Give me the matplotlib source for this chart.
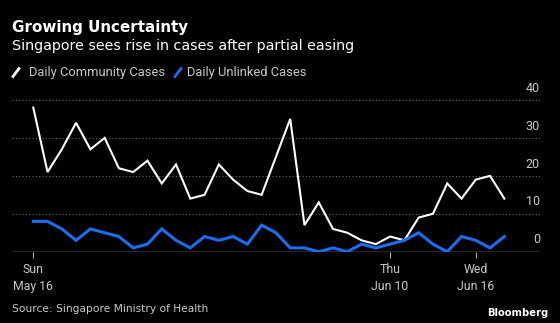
import datetime as dt
import matplotlib
matplotlib.use("Agg")
import matplotlib.pyplot as plt
import matplotlib.dates as mdates
from matplotlib.lines import Line2D

# --- data ---
start = dt.date(2021, 5, 16)
community = [38, 21, 27, 34, 27, 30, 22, 21, 24, 18, 23, 14, 15, 23, 19, 16, 15,
             25, 35, 7, 13, 6, 5, 3, 2, 4, 3, 9, 10, 18, 14, 19, 20, 14]
unlinked = [8, 8, 6, 3, 6, 5, 4, 1, 2, 6, 3, 1, 4, 3, 4, 2, 7,
            5, 1, 1, 0, 1, 0, 2, 1, 2, 3, 5, 2, 0, 4, 3, 1, 4]
dates = [start + dt.timedelta(days=i) for i in range(len(community))]
tick_dates = [dt.date(2021, 5, 16), dt.date(2021, 6, 10), dt.date(2021, 6, 16)]
tick_labels = ["Sun\nMay 16", "Thu\nJun 10", "Wed\nJun 16"]
y_ticks = [0, 10, 20, 30, 40]

WHITE = "#ffffff"
BLUE = "#1a6cf0"
GREY = "#c8c8c8"
NARROW = ["Roboto", "DejaVu Sans"]
WIDE = ["DejaVu Sans"]

plt.rcParams["font.family"] = NARROW

W, H = 560, 323
fig = plt.figure(figsize=(W / 100, H / 100), dpi=100, facecolor="black")
ax = fig.add_axes([12 / W, 1 - 251.7 / H, 528 / W, 151.7 / H], facecolor="black")

ax.plot(dates, community, color=WHITE, lw=1.5, solid_joinstyle="miter", zorder=3)
ax.plot(dates, unlinked, color=BLUE, lw=2.2, solid_joinstyle="miter", zorder=3)

ax.set_ylim(0, 40)
ax.set_xlim(mdates.date2num(start) - 1.49, mdates.date2num(start) + 35.5)

for v in y_ticks[1:]:
    ax.axhline(v, color="#6a6a6a", lw=0.8, ls=(0, (1, 2)), zorder=1)
ax.axhline(0, color="#b0b0b0", lw=1.0, zorder=2)
for v in y_ticks:
    ax.text(1.0, v + 1.4, str(v), transform=ax.get_yaxis_transform(),
            ha="right", va="bottom", color=GREY, fontsize=9, clip_on=False)

for s in ax.spines.values():
    s.set_visible(False)
ax.set_yticks([])
ax.set_xticks([mdates.date2num(d) for d in tick_dates])
ax.set_xticklabels(tick_labels, color=GREY, fontsize=8.8, linespacing=1.45)
ax.tick_params(axis="x", length=4, width=0.8, color="#b0b0b0", pad=4)

# header
fig.text(12.5 / W, 1 - 27.5 / H, "Growing Uncertainty", color=WHITE, fontsize=10.9,
         fontweight="bold", va="center", ha="left", family=WIDE)
fig.text(12.5 / W, 1 - 46 / H, "Singapore sees rise in cases after partial easing",
         color=WHITE, fontsize=10.3, va="center", ha="left", family=WIDE)

# legend
for x0, col in [(13, WHITE), (175, BLUE)]:
    fig.add_artist(Line2D([x0 / W, (x0 + 6) / W], [1 - 76.5 / H, 1 - 68.5 / H],
                          color=col, lw=2, transform=fig.transFigure))
fig.text(29 / W, 1 - 72.5 / H, "Daily Community Cases", color=GREY, fontsize=9.3,
         va="center", ha="left")
fig.text(187 / W, 1 - 72.5 / H, "Daily Unlinked Cases", color=GREY, fontsize=9.3,
         va="center", ha="left")

# footer
fig.text(12.5 / W, 1 - 308.5 / H, "Source: Singapore Ministry of Health", color=GREY,
         fontsize=7.7, va="center", ha="left", family=WIDE)
fig.text(548 / W, 1 - 313 / H, "Bloomberg", color=WHITE, fontsize=7.2,
         fontweight="bold", va="center", ha="right", family=WIDE)

fig.savefig("out.png", dpi=100, facecolor="black")
